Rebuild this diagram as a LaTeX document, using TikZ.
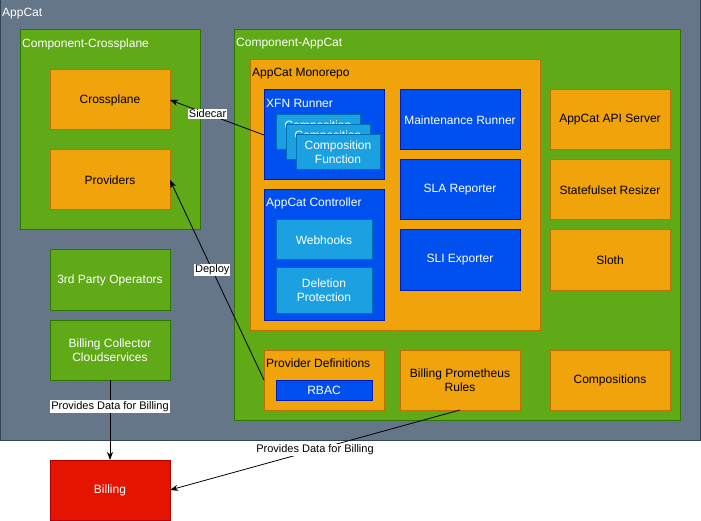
\documentclass[tikz,border=0pt]{standalone}
\usepackage{fontspec}
\setmainfont{Liberation Sans}
\usepackage{xcolor}
\definecolor{slatefill}{HTML}{647687}
\definecolor{slateline}{HTML}{314354}
\definecolor{leaf}{HTML}{60A917}
\definecolor{leafline}{HTML}{2D7600}
\definecolor{amber}{HTML}{F0A30A}
\definecolor{amberline}{HTML}{BD7000}
\definecolor{cobalt}{HTML}{0050EF}
\definecolor{cobaltline}{HTML}{001DBC}
\definecolor{sky}{HTML}{1BA1E2}
\definecolor{skyline}{HTML}{006EAF}
\definecolor{alarm}{HTML}{E51400}
\definecolor{alarmline}{HTML}{B20000}
\usepackage{tikz}
\usetikzlibrary{arrows.meta,positioning}
\tikzset{
  box/.style={rectangle, anchor=north west, inner sep=0pt, outer sep=0pt, align=center, line width=1pt, font=\fontsize{12}{14.4}\selectfont},
  appcat/.style={box, draw=slateline, fill=slatefill},
  comp/.style={box, draw=leafline, fill=leaf, text=white},
  orng/.style={box, draw=amberline, fill=amber, text=black},
  blu/.style={box, draw=cobaltline, fill=cobalt, text=white},
  lblu/.style={box, draw=skyline, fill=sky, text=white},
  alarmbox/.style={box, draw=alarmline, fill=alarm, text=white},
  title/.style={anchor=west, inner sep=0pt, font=\fontsize{12}{14.4}\selectfont},
  line/.style={draw, line width=0.8pt, -{Stealth[length=8pt,width=6pt,inset=2.5pt]}},
  lbl/.style={fill=white, inner sep=1pt, text=black, font=\fontsize{11}{13}\selectfont},
}

\begin{document}
\begin{tikzpicture}[x=1pt,y=-1pt]
  \useasboundingbox (0,0) rectangle (701,521);
  % outer frame
  \node[appcat, minimum width=700pt, minimum height=440pt] (appcat) at (0,0) {};
  \node[title, text=white] (appcatT) at (2,14) {AppCat};
  % crossplane side
  \node[comp, minimum width=180pt, minimum height=200pt] (compX) at (20,30) {};
  \node[title, text=white] (compXT) at (22,44) {Component-Crossplane};
  \node[orng, minimum width=120pt, minimum height=60pt] (crossplane) at (50,70) {Crossplane};
  \node[orng, minimum width=120pt, minimum height=60pt] (providers) at (50,150) {Providers};
  \node[comp, minimum width=120pt, minimum height=60pt] (thirdparty) at (50,250) {3rd Party Operators};
  \node[comp, minimum width=120pt, minimum height=60pt] (collector) at (50,320) {Billing Collector\\Cloudservices};
  % appcat side
  \node[comp, minimum width=446pt, minimum height=390pt] (compA) at (234,30) {};
  \node[title, text=white] (compAT) at (236,44) {Component-AppCat};
  \node[orng, minimum width=290pt, minimum height=270pt] (monorepo) at (250,60) {};
  \node[title] (monorepoT) at (252,74) {AppCat Monorepo};
  \node[blu, minimum width=120pt, minimum height=90pt] (xfn) at (264,90) {};
  \node[title, text=white] (xfnT) at (266,103) {XFN Runner};
  \node[lblu, minimum width=84pt, minimum height=35pt] (func1) at (276,115) {Composition\\Function};
  \node[lblu, minimum width=84pt, minimum height=35pt] (func2) at (286,125) {Composition\\Function};
  \node[lblu, minimum width=84pt, minimum height=35pt] (func3) at (296,135) {Composition\\Function};
  \node[blu, minimum width=120pt, minimum height=130pt] (ctrl) at (264,190) {};
  \node[title, text=white] (ctrlT) at (266,203) {AppCat Controller};
  \node[lblu, minimum width=96pt, minimum height=40pt] (webhooks) at (276,220) {Webhooks};
  \node[lblu, minimum width=96pt, minimum height=45pt] (deletion) at (276,268) {Deletion\\Protection};
  \node[blu, minimum width=120pt, minimum height=60pt] (maint) at (400,90) {Maintenance Runner};
  \node[blu, minimum width=120pt, minimum height=60pt] (sla) at (400,160) {SLA Reporter};
  \node[blu, minimum width=120pt, minimum height=60pt] (sli) at (400,230) {SLI Exporter};
  \node[orng, minimum width=120pt, minimum height=60pt] (apiserver) at (550,90) {AppCat API Server};
  \node[orng, minimum width=120pt, minimum height=60pt] (resizer) at (550,160) {Statefulset Resizer};
  \node[orng, minimum width=120pt, minimum height=60pt] (sloth) at (550,230) {Sloth};
  \node[orng, minimum width=120pt, minimum height=60pt] (provdef) at (264,350) {};
  \node[title] (provdefT) at (266,363) {Provider Definitions};
  \node[blu, minimum width=96pt, minimum height=20pt] (rbac) at (276,380) {RBAC};
  \node[orng, minimum width=120pt, minimum height=60pt] (promrules) at (400,350) {Billing Prometheus\\Rules};
  \node[orng, minimum width=120pt, minimum height=60pt] (compositions) at (550,350) {Compositions};
  % billing
  \node[alarmbox, minimum width=120pt, minimum height=60pt] (billing) at (50,460) {Billing};
  % connectors
  \draw[line] (xfn.west) -- node[lbl, pos=0.6] {Sidecar} (crossplane.east);
  \draw[line] (provdef.west) -- node[lbl, pos=0.55] {Deploy} (providers.east);
  \draw[line] (collector.south) -- node[lbl, pos=0.33] {Provides Data for Billing} (billing.north);
  \draw[line] (promrules.south) -- node[lbl, pos=0.5] {Provides Data for Billing} (billing.east);
\end{tikzpicture}
\end{document}
